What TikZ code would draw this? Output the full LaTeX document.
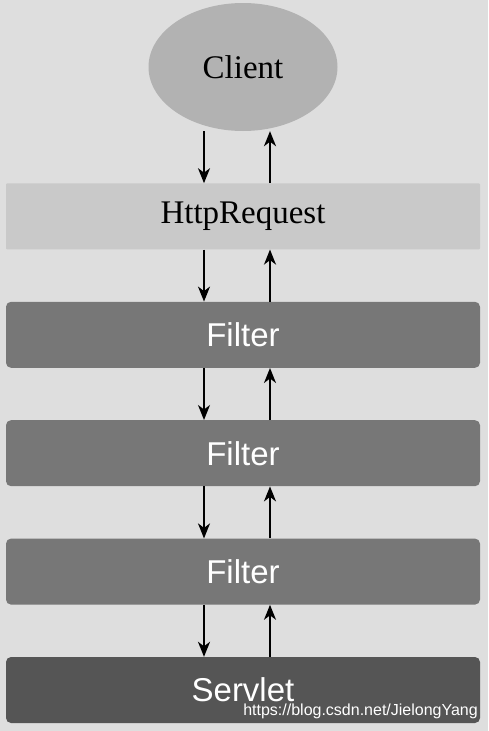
\documentclass[tikz,border=0pt]{standalone}
\usepackage{fontspec}
\setmainfont{Liberation Serif}
\setsansfont{Liberation Sans}
\usepackage{tikz}
\usetikzlibrary{shapes.geometric, arrows.meta}
\usetikzlibrary{positioning}
\definecolor{pagebg}{HTML}{DEDEDE}
\definecolor{clientgray}{HTML}{B2B2B2}
\definecolor{requestgray}{HTML}{C9C9C9}
\definecolor{filtergray}{HTML}{777777}
\definecolor{servletgray}{HTML}{555555}
\tikzset{
layerbox/.style={
	rectangle,
	rounded corners=5pt,
	minimum width=474pt,
	minimum height=66pt,
	text centered,
	draw=none,
	inner sep=0pt,
	font=\sffamily\fontsize{33}{36}\selectfont,
	text=white
},
flow/.style={
	-{Stealth[length=15pt,width=12pt,inset=4.5pt]},
	draw=black,
	line width=1.8pt
}
}

\begin{document}
\begin{tikzpicture}[
  x=1pt, y=-1pt,
  node distance=52pt,
  clientnode/.style={
    ellipse,
    minimum width=189pt,
    minimum height=128pt,
    fill=clientgray,
    inner sep=0pt,
    font=\fontsize{33}{36}\selectfont
  }
]

% background and page size
\fill[pagebg] (0,0) rectangle (488,731);
\useasboundingbox (0,0) rectangle (488,731);

\node (Client) [clientnode] at (243,67) {Client};
\node (Request) [layerbox, below=of Client, fill=requestgray, rounded corners=1pt,
  text=black, font=\rmfamily\fontsize{33}{36}\selectfont] {HttpRequest};
\node (FilterA) [layerbox, below=of Request, fill=filtergray] {Filter};
\node (FilterB) [layerbox, below=of FilterA, fill=filtergray] {Filter};
\node (FilterC) [layerbox, below=of FilterB, fill=filtergray] {Filter};
\node (Servlet) [layerbox, below=of FilterC, fill=servletgray] {Servlet};

% watermark
\node (Mark) [anchor=base east, inner sep=0pt, text=white,
  font=\sffamily\fontsize{16}{18}\selectfont] at (478,715)
  {https://blog.csdn.net/JielongYang};

% request goes down, response comes back up
\foreach \upper/\lower in {Client/Request, Request/FilterA, FilterA/FilterB,
  FilterB/FilterC, FilterC/Servlet}{
  \draw[flow] ([xshift=-39pt]\upper.south) -- ([xshift=-39pt]\lower.north);
  \draw[flow] ([xshift=27pt]\lower.north) -- ([xshift=27pt]\upper.south);
}

\end{tikzpicture}
\end{document}
